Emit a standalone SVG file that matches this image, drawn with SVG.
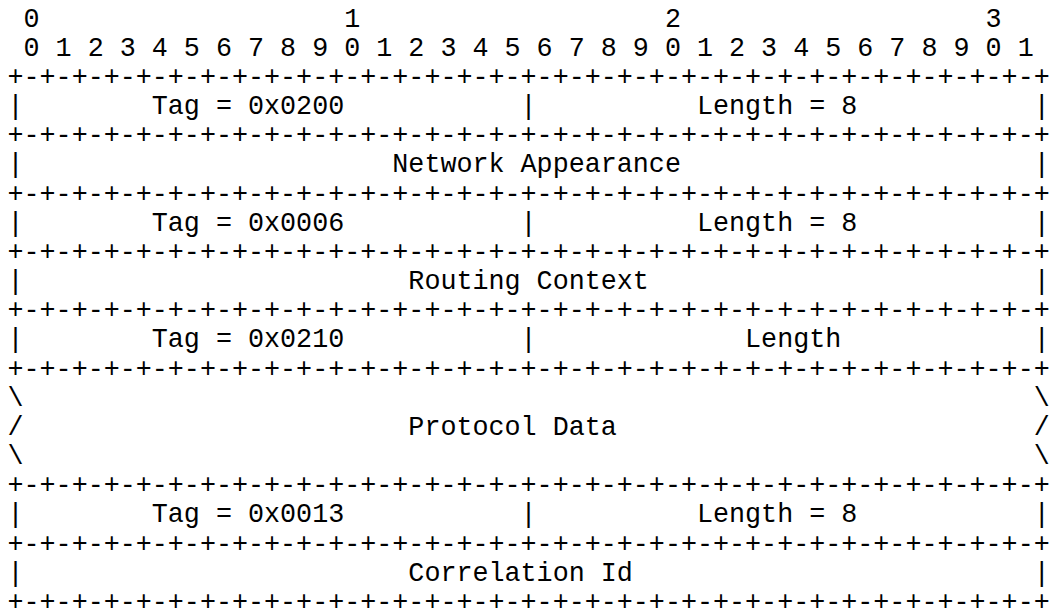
<svg xmlns="http://www.w3.org/2000/svg" width="1049" height="612" viewBox="0 0 1049 612">
<style>
text{font-family:"Courier New","Nimbus Mono PS","Liberation Mono","DejaVu Sans Mono",monospace;font-size:26.73px;fill:#000;white-space:pre}
</style>
<rect width="1049" height="612" fill="#fff"/>
<g id="ruler">
<text x="7.5" y="26.5" xml:space="preserve"> 0                   1                   2                   3</text>
<text x="7.5" y="55.67" xml:space="preserve"> 0 1 2 3 4 5 6 7 8 9 0 1 2 3 4 5 6 7 8 9 0 1 2 3 4 5 6 7 8 9 0 1</text>
</g>
<g id="connectors">
<text x="7.5" y="84.84" xml:space="preserve">+-+-+-+-+-+-+-+-+-+-+-+-+-+-+-+-+-+-+-+-+-+-+-+-+-+-+-+-+-+-+-+-+</text>
<text x="7.5" y="143.18" xml:space="preserve">+-+-+-+-+-+-+-+-+-+-+-+-+-+-+-+-+-+-+-+-+-+-+-+-+-+-+-+-+-+-+-+-+</text>
<text x="7.5" y="201.52" xml:space="preserve">+-+-+-+-+-+-+-+-+-+-+-+-+-+-+-+-+-+-+-+-+-+-+-+-+-+-+-+-+-+-+-+-+</text>
<text x="7.5" y="259.86" xml:space="preserve">+-+-+-+-+-+-+-+-+-+-+-+-+-+-+-+-+-+-+-+-+-+-+-+-+-+-+-+-+-+-+-+-+</text>
<text x="7.5" y="318.2" xml:space="preserve">+-+-+-+-+-+-+-+-+-+-+-+-+-+-+-+-+-+-+-+-+-+-+-+-+-+-+-+-+-+-+-+-+</text>
<text x="7.5" y="376.54" xml:space="preserve">+-+-+-+-+-+-+-+-+-+-+-+-+-+-+-+-+-+-+-+-+-+-+-+-+-+-+-+-+-+-+-+-+</text>
<text x="7.5" y="493.22" xml:space="preserve">+-+-+-+-+-+-+-+-+-+-+-+-+-+-+-+-+-+-+-+-+-+-+-+-+-+-+-+-+-+-+-+-+</text>
<text x="7.5" y="551.56" xml:space="preserve">+-+-+-+-+-+-+-+-+-+-+-+-+-+-+-+-+-+-+-+-+-+-+-+-+-+-+-+-+-+-+-+-+</text>
<text x="7.5" y="609.9" xml:space="preserve">+-+-+-+-+-+-+-+-+-+-+-+-+-+-+-+-+-+-+-+-+-+-+-+-+-+-+-+-+-+-+-+-+</text>
</g>
<g id="tag-na">
<text x="7.5" y="114.01" xml:space="preserve">|        Tag = 0x0200           |          Length = 8           |</text>
</g>
<g id="network-appearance">
<text x="7.5" y="172.35" xml:space="preserve">|                       Network Appearance                      |</text>
</g>
<g id="tag-rc">
<text x="7.5" y="230.69" xml:space="preserve">|        Tag = 0x0006           |          Length = 8           |</text>
</g>
<g id="routing-context">
<text x="7.5" y="289.03" xml:space="preserve">|                        Routing Context                        |</text>
</g>
<g id="tag-pd">
<text x="7.5" y="347.37" xml:space="preserve">|        Tag = 0x0210           |             Length            |</text>
</g>
<g id="protocol-data">
<text x="7.5" y="405.71" xml:space="preserve">\                                                               \</text>
<text x="7.5" y="434.88" xml:space="preserve">/                        Protocol Data                          /</text>
<text x="7.5" y="464.05" xml:space="preserve">\                                                               \</text>
</g>
<g id="tag-ci">
<text x="7.5" y="522.39" xml:space="preserve">|        Tag = 0x0013           |          Length = 8           |</text>
</g>
<g id="correlation-id">
<text x="7.5" y="580.73" xml:space="preserve">|                        Correlation Id                         |</text>
</g>
</svg>
